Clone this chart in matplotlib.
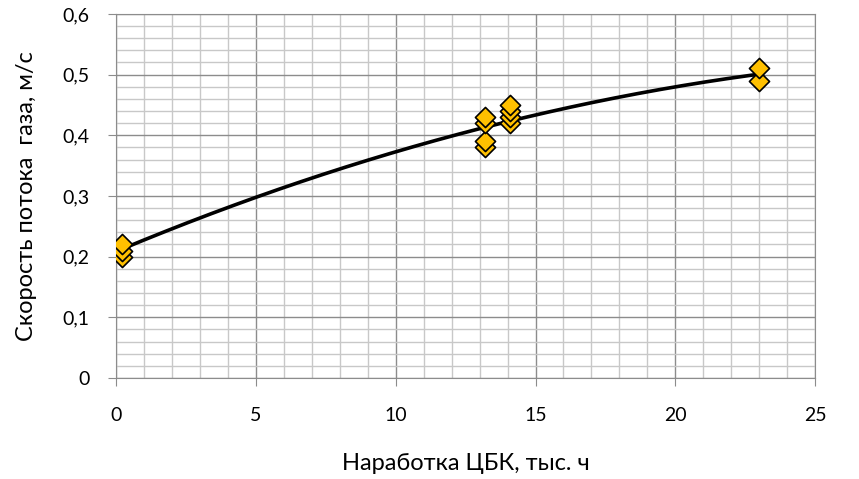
import matplotlib.pyplot as plt
import numpy as np
from matplotlib.ticker import MultipleLocator

plt.rcParams['font.family'] = ['Lato', 'DejaVu Sans']

# measured points
hours = [0.2, 0.2, 0.2, 13.2, 13.2, 13.2, 13.2, 14.1, 14.1, 14.1, 14.1, 23.0, 23.0]
speed = [0.20, 0.21, 0.22, 0.38, 0.39, 0.42, 0.43, 0.42, 0.43, 0.44, 0.45, 0.49, 0.51]

# trend curve
trend_x = [0.2, 2.5, 5, 7.5, 10, 12.5, 15, 17.5, 20, 23]
trend_y = [0.212, 0.256, 0.297, 0.336, 0.372, 0.405, 0.434, 0.459, 0.480, 0.500]

fig = plt.figure(figsize=(8.59, 4.79), dpi=100)
ax = fig.add_axes([0.135, 0.211, 0.814, 0.760])

# smooth the trend with a quadratic through the read values
c = np.polyfit(trend_x, trend_y, 2)
xx = np.linspace(trend_x[0], trend_x[-1], 200)
ax.plot(xx, np.polyval(c, xx), color='black', lw=2.6, zorder=3)

ax.scatter(hours, speed, marker='D', s=105, facecolor='#FFC000', edgecolor='black',
           linewidth=1.2, zorder=4)

ax.set_xlim(0, 25)
ax.set_ylim(0, 0.6)
ax.xaxis.set_major_locator(MultipleLocator(5))
ax.xaxis.set_minor_locator(MultipleLocator(1))
ax.yaxis.set_minor_locator(MultipleLocator(0.02))
yt = [0, 0.1, 0.2, 0.3, 0.4, 0.5, 0.6]
ax.set_yticks(yt)
ax.set_yticklabels(['0', '0,1', '0,2', '0,3', '0,4', '0,5', '0,6'])

ax.grid(which='major', color='#8c8c8c', lw=1.0)
ax.grid(which='minor', color='#c8c8c8', lw=1.0)
ax.set_axisbelow(True)
for s in ax.spines.values():
    s.set_color('#8c8c8c')
ax.tick_params(which='major', length=6, color='#8c8c8c', labelsize=14)
ax.tick_params(axis='x', pad=15)
ax.tick_params(axis='y', pad=13)
ax.tick_params(which='minor', length=0)

ax.set_xlabel('Наработка ЦБК, тыс. ч', fontsize=17, labelpad=21)
ax.set_ylabel('Скорость потока  газа, м/с', fontsize=17, labelpad=18)

fig.savefig('out.png', dpi=100)
